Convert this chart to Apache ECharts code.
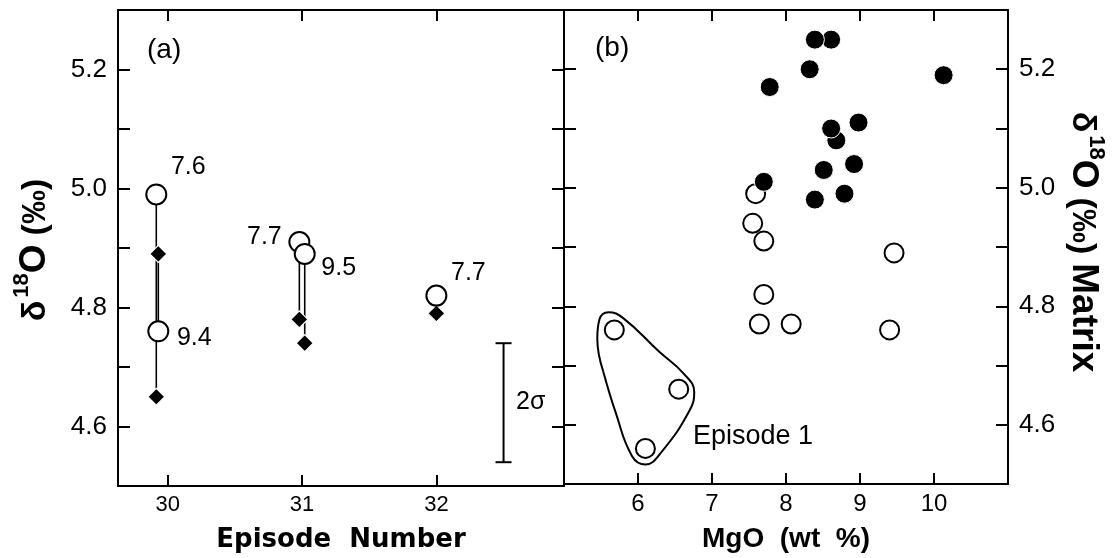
<!DOCTYPE html>
<html>
<head>
<meta charset="utf-8">
<script src="https://cdn.jsdelivr.net/npm/echarts@6/dist/echarts.min.js"></script>
<style>
  html, body { margin: 0; padding: 0; background: #fff; }
  #chart { width: 1114px; height: 558px; }
</style>
</head>
<body>
<div id="chart"></div>
<script>
  'use strict';

  // (a) episodes 30-32: whole rock (open circles, MgO label) vs matrix (diamonds)
  var episodeX = [29.915, 29.93, 30.98, 31.02, 32.0];
  var wholeRockO18 = [4.99, 4.76, 4.91, 4.89, 4.82];
  var matrixO18 = [4.65, 4.89, 4.78, 4.74, 4.79];
  var mgoLabels = ['7.6', '9.4', '7.7', '9.5', '7.7'];
  var episodeTicks = [30, 31, 32];

  // (b) MgO vs d18O
  var filledMgO = [8.61, 8.39, 8.32, 7.78, 10.13, 8.68, 8.61, 8.98, 8.51, 8.92, 7.70, 8.39, 8.79];
  var filledO18 = [5.25, 5.25, 5.20, 5.17, 5.19, 5.08, 5.10, 5.11, 5.03, 5.04, 5.01, 4.98, 4.99];
  var openMgO = [7.59, 7.55, 7.70, 9.46, 7.70, 7.64, 8.07, 9.40, 5.68, 6.55, 6.10];
  var openO18 = [4.99, 4.94, 4.91, 4.89, 4.82, 4.77, 4.77, 4.76, 4.76, 4.66, 4.56];
  var mgoTicks = [6, 7, 8, 9, 10];

  // episode 1 outline (MgO, d18O) and the 2 sigma bar
  var episode1Outline = [
    [5.53, 4.69], [5.45, 4.745], [5.48, 4.778], [5.60, 4.790], [5.80, 4.780],
    [6.28, 4.724], [6.62, 4.686], [6.76, 4.655], [6.70, 4.625], [6.33, 4.556],
    [6.10, 4.533], [5.92, 4.547], [5.70, 4.62], [5.53, 4.69]
  ];
  var sigmaBar = [[32.5, 4.54], [32.5, 4.74]];

  var o18Ticks = [4.6, 4.7, 4.8, 4.9, 5.0, 5.1, 5.2];
  var o18Labels = [4.6, 4.8, 5.0, 5.2];

  var FONT = 'Liberation Sans, Arial, Helvetica, sans-serif';
  var BLACK = '#000';

  function xAxisFor(grid, pos, min, max, ticks, labelSize, showLabel, name, nameFont, nameSize) {
    return {
      type: 'value', gridIndex: grid, position: pos, min: min, max: max,
      axisLine: { show: true, onZero: false, lineStyle: { color: BLACK, width: 2 } },
      axisTick: { show: true, inside: true, length: 11, customValues: ticks,
        lineStyle: { color: BLACK, width: 2 } },
      axisLabel: { show: showLabel, customValues: ticks, color: BLACK,
        fontFamily: FONT, fontSize: labelSize, margin: 8 },
      splitLine: { show: false },
      name: name || '', nameLocation: 'middle', nameGap: 41,
      nameTextStyle: { color: BLACK, fontWeight: 'bold', fontSize: nameSize || 26,
        fontFamily: nameFont || FONT }
    };
  }

  function yAxisFor(grid, pos, showLabel) {
    return {
      type: 'value', gridIndex: grid, position: pos, min: 4.5, max: 5.3,
      axisLine: { show: true, onZero: false, lineStyle: { color: BLACK, width: 2 } },
      axisTick: { show: true, inside: true, length: 12, customValues: o18Ticks,
        lineStyle: { color: BLACK, width: 2 } },
      axisLabel: { show: showLabel, customValues: o18Labels, color: BLACK,
        fontFamily: FONT, fontSize: 26, margin: 11,
        formatter: function(v) { return v.toFixed(1); } },
      splitLine: { show: false }
    };
  }

  var labelOffsets = [[32, -27], [36, 7], [-35, -5], [34, 14], [32, -22]];

  var series = [];

  // connecting lines whole rock -> matrix
  episodeX.forEach(function(x, i) {
    series.push({
      type: 'line', xAxisIndex: 0, yAxisIndex: 0, z: 1,
      data: [[x, wholeRockO18[i]], [x, matrixO18[i]]],
      symbol: 'none', lineStyle: { color: BLACK, width: 1.6, opacity: 1 }, silent: true
    });
  });

  series.push({
    type: 'scatter', xAxisIndex: 0, yAxisIndex: 0, z: 3,
    data: episodeX.map(function(x, i) { return [x, matrixO18[i]]; }),
    symbol: 'diamond', symbolSize: [17, 17],
    itemStyle: { color: BLACK, borderColor: '#fff', borderWidth: 1.2, opacity: 1 }
  });

  series.push({
    type: 'scatter', xAxisIndex: 0, yAxisIndex: 0, z: 4,
    data: episodeX.map(function(x, i) {
      return {
        value: [x, wholeRockO18[i]],
        label: { show: true, position: 'inside', formatter: mgoLabels[i],
          offset: labelOffsets[i], color: BLACK, fontSize: 25, fontFamily: FONT }
      };
    }),
    symbol: 'circle', symbolSize: 20,
    itemStyle: { color: '#fff', borderColor: BLACK, borderWidth: 2, opacity: 1 }
  });

  series.push({
    type: 'line', xAxisIndex: 0, yAxisIndex: 0, data: sigmaBar,
    symbol: 'rect', symbolSize: [16, 2], showAllSymbol: true,
    itemStyle: { color: BLACK, opacity: 1 }, lineStyle: { color: BLACK, width: 2 }
  });

  // panel b
  series.push({
    type: 'line', xAxisIndex: 2, yAxisIndex: 3, data: episode1Outline,
    smooth: 0.45, symbol: 'none', lineStyle: { color: BLACK, width: 2 }
  });

  series.push({
    type: 'scatter', xAxisIndex: 2, yAxisIndex: 3, z: 3,
    data: openMgO.map(function(x, i) { return [x, openO18[i]]; }),
    symbol: 'circle', symbolSize: 19,
    itemStyle: { color: '#fff', borderColor: BLACK, borderWidth: 2, opacity: 1 }
  });

  series.push({
    type: 'scatter', xAxisIndex: 2, yAxisIndex: 3, z: 4,
    data: filledMgO.map(function(x, i) { return [x, filledO18[i]]; }),
    symbol: 'circle', symbolSize: 19,
    itemStyle: { color: BLACK, borderColor: '#fff', borderWidth: 1, opacity: 1 }
  });

  var titleRich = {
    d: { fontSize: 34, fontWeight: 'bold', fontFamily: FONT, verticalAlign: 'bottom', lineHeight: 42 },
    s: { fontSize: 22, fontWeight: 'bold', fontFamily: FONT, verticalAlign: 'top', lineHeight: 42, padding: [0, 0, 0, 3] },
    o: { fontSize: 37, fontWeight: 'bold', fontFamily: FONT, verticalAlign: 'bottom', lineHeight: 42 },
    m: { fontSize: 37, fontWeight: 'bold', fontFamily: FONT, verticalAlign: 'bottom', lineHeight: 42, padding: [0, 0, 0, 9] },
    p: { fontSize: 34, fontFamily: FONT, fontWeight: 'bold', verticalAlign: 'bottom', lineHeight: 42, padding: [0, 0, 0, 9] }
  };

  function plainText(x, y, text, size) {
    return {
      type: 'text', x: x, y: y,
      style: { text: text, fill: BLACK, font: size + 'px ' + FONT,
        textAlign: 'left', textVerticalAlign: 'middle' }
    };
  }

  var chart = echarts.init(document.getElementById('chart'), null, { renderer: 'canvas' });
  chart.setOption({
    animation: false,
    backgroundColor: '#fff',
    grid: [
      { left: 118, top: 10, width: 446, height: 477 },
      { left: 564, top: 10, width: 444, height: 477 }
    ],
    xAxis: [
      xAxisFor(0, 'bottom', 29.63, 32.95, episodeTicks, 22, true, 'Episode  Number', 'DejaVu Sans', 26),
      xAxisFor(0, 'top', 29.63, 32.95, episodeTicks, 22, false),
      xAxisFor(1, 'bottom', 5, 11, mgoTicks, 24, true, 'MgO  (wt  %)', FONT, 28),
      xAxisFor(1, 'top', 5, 11, mgoTicks, 24, false)
    ],
    yAxis: [
      yAxisFor(0, 'left', true),
      yAxisFor(0, 'right', false),
      yAxisFor(1, 'left', false),
      yAxisFor(1, 'right', true)
    ],
    series: series,
    graphic: [
      plainText(147, 50, '(a)', 28),
      plainText(595, 48, '(b)', 28),
      plainText(516, 402, '2σ', 25),
      plainText(693, 437, 'Episode 1', 27),
      {
        type: 'text', x: 32, y: 250, rotation: Math.PI / 2,
        style: { text: '{d|δ}{s|18}{o|O}{p|(‰)}', rich: titleRich, fill: BLACK,
          textAlign: 'center', textVerticalAlign: 'middle' }
      },
      {
        type: 'text', x: 1086, y: 242, rotation: -Math.PI / 2,
        style: { text: '{d|δ}{s|18}{o|O}{p|(‰)}{m|Matrix}', rich: titleRich, fill: BLACK,
          textAlign: 'center', textVerticalAlign: 'middle' }
      }
    ]
  });
</script>
</body>
</html>
